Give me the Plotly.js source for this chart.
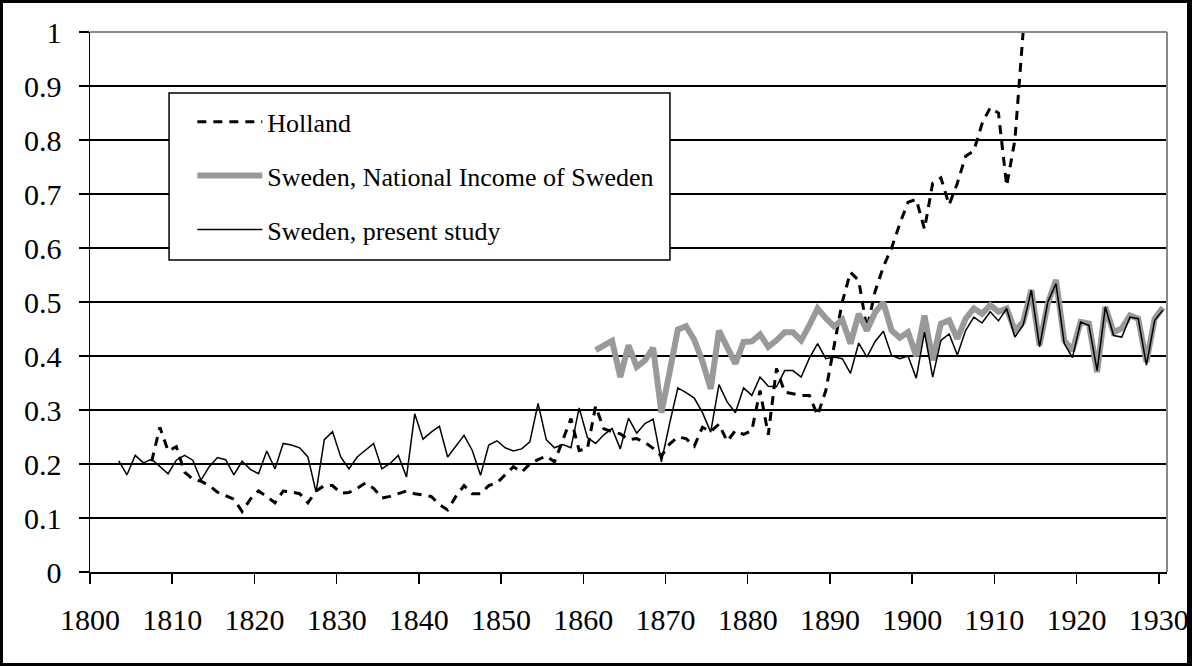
<!DOCTYPE html>
<html>
<head>
<meta charset="utf-8">
<script src="https://cdn.plot.ly/plotly-3.0.1.min.js"></script>
<style>
  html, body { margin: 0; padding: 0; background: #fff; }
  #chart { width: 1192px; height: 666px; }
  #frame { position: absolute; left: 0; top: 0; width: 1192px; height: 666px; box-sizing: border-box;
           border-style: solid; border-color: #000; border-width: 3px 5px 3px 3px; pointer-events: none; }
</style>
</head>
<body>
<div id="chart"></div>
<div id="frame"></div>
<script>
// ---- data ----
const xTickLabels = [1800, 1810, 1820, 1830, 1840, 1850, 1860, 1870, 1880, 1890, 1900, 1910, 1920, 1930];
const yTickLabels = [0, 0.1, 0.2, 0.3, 0.4, 0.5, 0.6, 0.7, 0.8, 0.9, 1];

const hollandStart = 1807;
const holland = [
  0.205, 0.268, 0.224, 0.232, 0.185, 0.172, 0.168, 0.160, 0.148, 0.142,
  0.135, 0.112, 0.135, 0.150, 0.140, 0.128, 0.150, 0.148, 0.145, 0.128,
  0.150, 0.160, 0.160, 0.146, 0.147, 0.155, 0.165, 0.155, 0.137, 0.140,
  0.145, 0.150, 0.145, 0.143, 0.140, 0.125, 0.115, 0.140, 0.160, 0.145,
  0.145, 0.160, 0.165, 0.180, 0.195, 0.185, 0.200, 0.208, 0.215, 0.204,
  0.243, 0.284, 0.225, 0.228, 0.307, 0.265, 0.260, 0.256, 0.245, 0.247,
  0.240, 0.229, 0.215, 0.237, 0.250, 0.247, 0.233, 0.268, 0.260, 0.274,
  0.242, 0.262, 0.255, 0.262, 0.336, 0.254, 0.377, 0.333, 0.330, 0.327,
  0.327, 0.290, 0.336, 0.420, 0.500, 0.555, 0.540, 0.450, 0.520, 0.565,
  0.600, 0.645, 0.685, 0.690, 0.635, 0.720, 0.730, 0.680, 0.720, 0.770,
  0.780, 0.830, 0.860, 0.850, 0.715, 0.800, 1.000
];

const nationalStart = 1861;
const nationalIncome = [
  0.411, 0.420, 0.428, 0.361, 0.420, 0.380, 0.392, 0.415, 0.295, 0.370,
  0.449, 0.455, 0.430, 0.390, 0.339, 0.447, 0.417, 0.386, 0.426, 0.427,
  0.440, 0.417, 0.429, 0.444, 0.444, 0.429, 0.457, 0.488, 0.470, 0.455,
  0.467, 0.423, 0.478, 0.447, 0.481, 0.499, 0.447, 0.434, 0.444, 0.400,
  0.475, 0.392, 0.460, 0.466, 0.432, 0.469, 0.488, 0.478, 0.494, 0.482,
  0.488, 0.447, 0.463, 0.522, 0.420, 0.497, 0.541, 0.429, 0.410, 0.463,
  0.460, 0.370, 0.491, 0.444, 0.451, 0.475, 0.469, 0.389, 0.469, 0.490
];

const presentStart = 1803;
const presentStudy = [
  0.206, 0.180, 0.216, 0.202, 0.209, 0.196, 0.182, 0.207, 0.216, 0.207,
  0.170, 0.195, 0.212, 0.208, 0.180, 0.205, 0.190, 0.182,
  0.224, 0.191, 0.238, 0.235, 0.230, 0.213, 0.148, 0.245, 0.260, 0.213,
  0.191, 0.213, 0.225, 0.238, 0.191, 0.201, 0.216, 0.176, 0.293, 0.246,
  0.259, 0.270, 0.213, 0.232, 0.253, 0.225, 0.179, 0.235, 0.243, 0.230,
  0.224, 0.228, 0.241, 0.312, 0.245, 0.230, 0.236, 0.230, 0.304, 0.249,
  0.238, 0.254, 0.266, 0.228, 0.285, 0.257, 0.275, 0.283, 0.204, 0.275,
  0.341, 0.332, 0.322, 0.295, 0.259, 0.347, 0.315, 0.295, 0.341, 0.327,
  0.361, 0.344, 0.343, 0.373, 0.373, 0.361, 0.396, 0.423, 0.395, 0.398,
  0.395, 0.368, 0.424, 0.398, 0.427, 0.446, 0.401, 0.395, 0.400, 0.359,
  0.444, 0.361, 0.429, 0.441, 0.402, 0.447, 0.472, 0.461, 0.482, 0.465,
  0.488, 0.435, 0.457, 0.522, 0.417, 0.500, 0.534, 0.423, 0.397, 0.463,
  0.457, 0.373, 0.491, 0.438, 0.435, 0.472, 0.469, 0.383, 0.466, 0.485
];

// Excel category axis: each year's point sits in the middle of its slot
function yearsFrom(start, values) { return values.map((_, i) => start + i + 0.5); }

const FONT = 'Liberation Serif';

const traces = [
  { name: 'Holland', x: yearsFrom(hollandStart, holland), y: holland, mode: 'lines',
    line: { color: '#000', width: 3, dash: '9px,7px' }, legendgroup: 'a' },
  { name: 'Sweden, National Income of Sweden', x: yearsFrom(nationalStart, nationalIncome), y: nationalIncome,
    mode: 'lines', line: { color: '#999999', width: 6 }, legendgroup: 'b' },
  { name: 'Sweden, present study', x: yearsFrom(presentStart, presentStudy), y: presentStudy,
    mode: 'lines', line: { color: '#000', width: 1.5 }, legendgroup: 'c' }
];

const layout = {
  width: 1192, height: 666,
  margin: { l: 90, r: 25, t: 32, b: 94 },
  paper_bgcolor: '#fff', plot_bgcolor: '#fff',
  font: { family: FONT, size: 30, color: '#000' },
  showlegend: true,
  legend: {
    x: 0.095, xanchor: 'left', y: 0.877, yanchor: 'top',
    bgcolor: 'rgba(0,0,0,0)', borderwidth: 0,
    font: { family: FONT, size: 26, color: '#000' },
    tracegroupgap: 17, itemwidth: 65, traceorder: 'grouped'
  },
  xaxis: {
    range: [1800, 1931], tickmode: 'array', tickvals: xTickLabels, ticktext: xTickLabels.map(String),
    ticks: 'outside', ticklen: 10, tickwidth: 1.5, tickcolor: '#000',
    showline: true, linecolor: '#000', linewidth: 1.5, showgrid: false, zeroline: false,
    tickfont: { family: FONT, size: 30, color: '#000' }, ticklabelstandoff: 10, fixedrange: true
  },
  yaxis: {
    range: [0, 1], tickmode: 'array', tickvals: yTickLabels, ticktext: yTickLabels.map(String),
    ticks: 'outside', ticklen: 10, tickwidth: 1.5, tickcolor: '#000',
    showline: true, linecolor: '#000', linewidth: 1.5,
    showgrid: true, gridcolor: '#000', gridwidth: 1.5, zeroline: false,
    tickfont: { family: FONT, size: 30, color: '#000' }, ticklabelstandoff: 11, fixedrange: true
  },
  shapes: [
    { type: 'line', xref: 'paper', yref: 'paper', x0: 0, x1: 1, y0: 1, y1: 1, line: { color: '#888', width: 2 }, layer: 'above' },
    { type: 'line', xref: 'paper', yref: 'paper', x0: 1, x1: 1, y0: 0, y1: 1, line: { color: '#888', width: 2 }, layer: 'above' },
    { type: 'rect', xref: 'paper', yref: 'paper', x0: 0.0734, x1: 0.5385, y0: 0.5778, y1: 0.887,
      fillcolor: '#fff', line: { color: '#000', width: 1.5 }, layer: 'above' }
  ]
};

Plotly.newPlot('chart', traces, layout, { displayModeBar: false, staticPlot: true });
</script>
</body>
</html>
